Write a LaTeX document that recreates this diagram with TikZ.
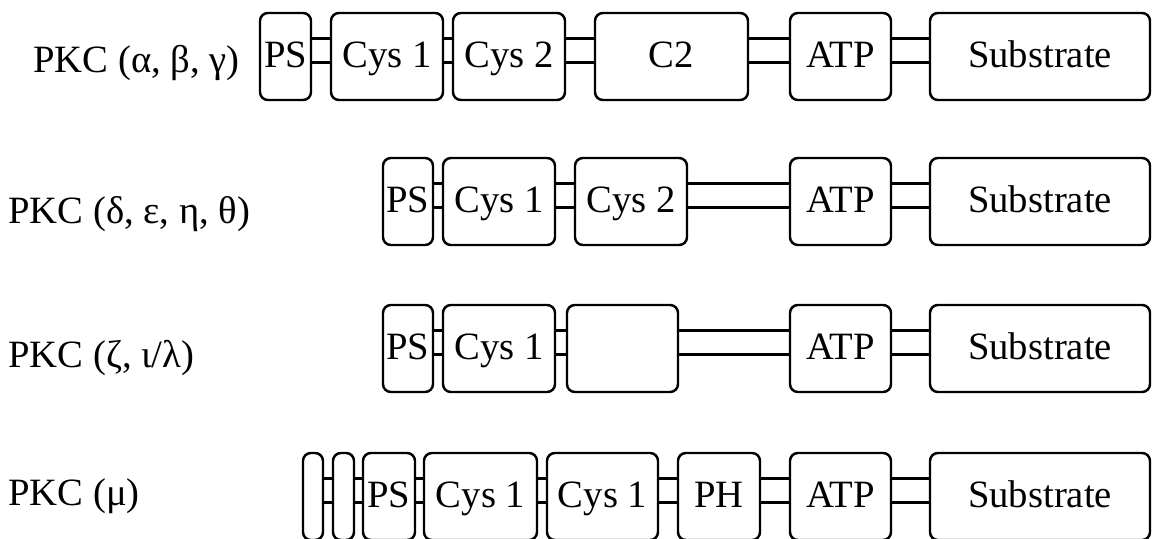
\documentclass[tikz,border=0pt]{standalone}
\usepackage{fontspec}
\setmainfont{Liberation Serif}
\usetikzlibrary{positioning,backgrounds}
\tikzset{
  dom-box/.style={draw,line width=1.4pt,rounded corners=4.5pt,
    minimum height=1.74cm,inner sep=0pt,outer sep=0pt,
    text height=16pt,text depth=4pt,anchor=west},
  dom-bar/.style={dom-box,minimum width=0.4cm},
  link/.style={double,line width=1.4pt,double distance=0.43cm},
  pkc-label/.style={anchor=base west,inner sep=0pt},
}

\begin{document}
\begin{tikzpicture}[font=\fontsize{22}{24}\selectfont]
  \useasboundingbox (0,0) rectangle (23.06,-10.76);
  \clip (0,0) rectangle (23.06,-10.76);

  % alpha, beta, gamma
  \node[pkc-label] (lab1) at (0.66,-1.44) {PKC (α, β, γ)};
  \node[dom-box,minimum width=1.02cm] (ps1) at (5.20,-1.13) {PS};
  \node[dom-box,minimum width=2.24cm,right=4mm of ps1] (cysa1) {Cys 1};
  \node[dom-box,minimum width=2.24cm,right=2mm of cysa1] (cysb1) {Cys 2};
  \node[dom-box,minimum width=3.06cm,right=6mm of cysb1] (c21) {C2};
  \node[dom-box,minimum width=2.02cm,right=8.4mm of c21] (atp1) {ATP};
  \node[dom-box,minimum width=4.40cm,right=7.8mm of atp1] (sub1) {Substrate};

  % delta, epsilon, eta, theta
  \node[pkc-label] (lab2) at (0.16,-4.46) {PKC (δ, ε, η, θ)};
  \node[dom-box,minimum width=1.00cm] (ps2) at (7.66,-4.03) {PS};
  \node[dom-box,minimum width=2.24cm,right=2mm of ps2] (cysa2) {Cys 1};
  \node[dom-box,minimum width=2.24cm,right=4mm of cysa2] (cysb2) {Cys 2};
  \node[dom-box,minimum width=2.02cm,right=20.6mm of cysb2] (atp2) {ATP};
  \node[dom-box,minimum width=4.40cm,right=7.8mm of atp2] (sub2) {Substrate};

  % zeta, iota/lambda
  \node[pkc-label] (lab3) at (0.16,-7.34) {PKC (ζ, ι/λ)};
  \node[dom-box,minimum width=1.00cm] (ps3) at (7.66,-6.97) {PS};
  \node[dom-box,minimum width=2.24cm,right=2mm of ps3] (cysa3) {Cys 1};
  \node[dom-box,minimum width=2.22cm,right=2.4mm of cysa3] (gap3) {};
  \node[dom-box,minimum width=2.02cm,right=22.4mm of gap3] (atp3) {ATP};
  \node[dom-box,minimum width=4.40cm,right=7.8mm of atp3] (sub3) {Substrate};

  % mu
  \node[pkc-label] (lab4) at (0.16,-10.10) {PKC (μ)};
  \node[dom-bar] (bara4) at (6.06,-9.93) {};
  \node[dom-bar,minimum width=0.42cm,right=2mm of bara4] (barb4) {};
  \node[dom-box,minimum width=1.04cm,right=1.8mm of barb4] (ps4) {PS};
  \node[dom-box,minimum width=2.26cm,right=1.8mm of ps4] (cysa4) {Cys 1};
  \node[dom-box,minimum width=2.22cm,right=2mm of cysa4] (cysb4) {Cys 1};
  \node[dom-box,minimum width=1.64cm,right=4mm of cysb4] (ph4) {PH};
  \node[dom-box,minimum width=2.02cm,right=6mm of ph4] (atp4) {ATP};
  \node[dom-box,minimum width=4.40cm,right=7.8mm of atp4] (sub4) {Substrate};

  \begin{scope}[on background layer]
    \foreach \a/\b in {ps1/cysa1,cysa1/cysb1,cysb1/c21,c21/atp1,atp1/sub1,
        ps2/cysa2,cysa2/cysb2,cysb2/atp2,atp2/sub2,
        ps3/cysa3,cysa3/gap3,gap3/atp3,atp3/sub3,
        bara4/barb4,barb4/ps4,ps4/cysa4,cysa4/cysb4,cysb4/ph4,ph4/atp4,atp4/sub4}
      \draw[link] ([yshift=1.2mm]\a.east) -- ([yshift=1.2mm]\b.west);
  \end{scope}
\end{tikzpicture}
\end{document}
